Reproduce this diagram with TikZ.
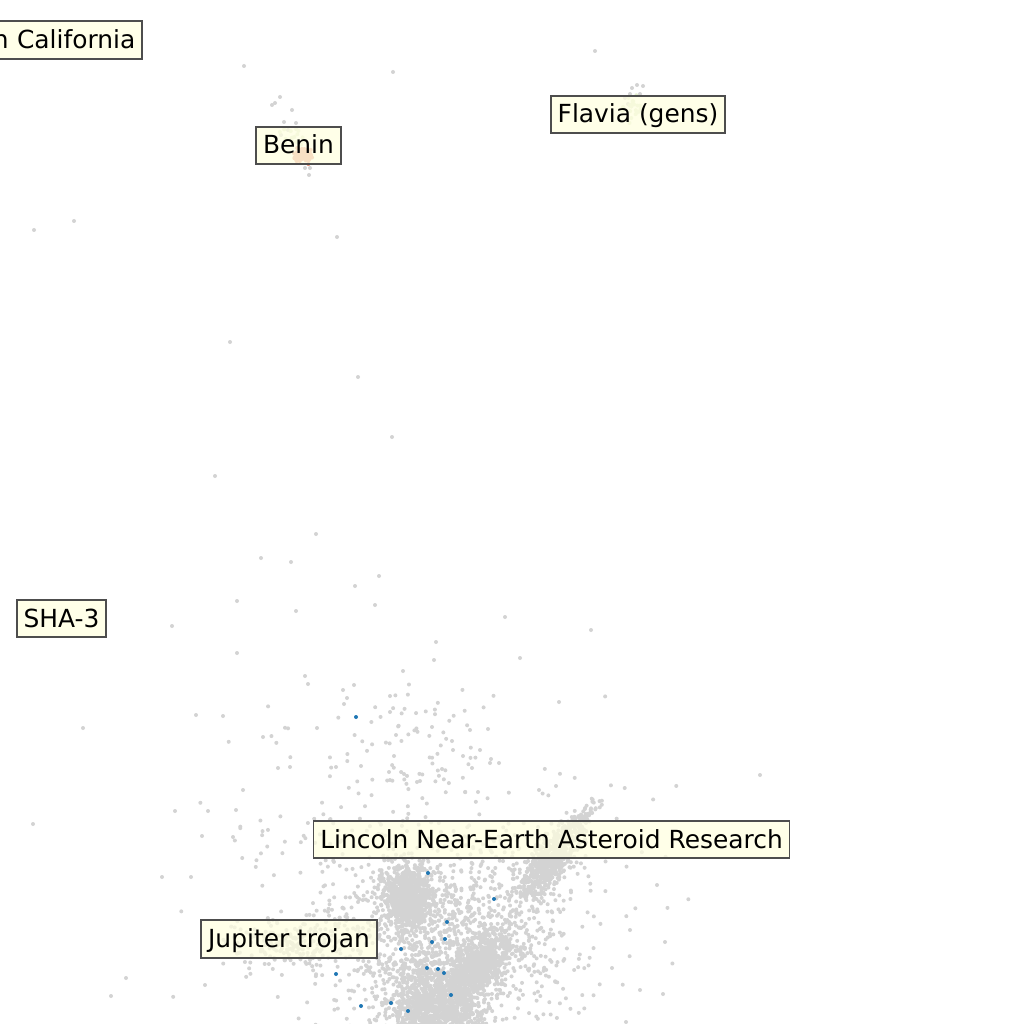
\documentclass[tikz,border=0pt]{standalone}
\usepackage{fontspec}
\setmainfont{DejaVu Sans}
\definecolor{ptgray}{HTML}{D3D3D3}
\definecolor{ptblue}{HTML}{1F77B4}
\definecolor{ptpink}{HTML}{E8907A}
\definecolor{ptgreen}{HTML}{E2EDCF}
\definecolor{lblfill}{HTML}{FFFFE0}
\definecolor{lbldraw}{HTML}{4D4D4D}
\newcommand\gcluster[8]{%
  \foreach \k in {1,...,#1}{%
    \pgfmathsetmacro\uu{rand+rand+rand}%
    \pgfmathsetmacro\vv{rand+rand+rand}%
    \fill[#8] ({#2+#4*\uu+#5*\vv},{#3+#6*\uu+#7*\vv}) circle[radius=2pt];
  }}
\tikzset{
  lbl/.style={draw=lbldraw, line width=1.8pt, fill=lblfill, fill opacity=0.72,
    text opacity=1, font=\fontsize{24.9}{29}\selectfont, inner xsep=6.8pt,
    inner ysep=0pt, minimum height=37.5pt, text height=20.5pt, text depth=3.5pt}
}
\begin{document}
\begin{tikzpicture}[x=1pt,y=-1pt]
\useasboundingbox (0,0) rectangle (1024,1024);
\clip (0,0) rectangle (1024,1024);
\fill[white] (0,0) rectangle (1024,1024);
\pgfmathsetseed{4242}
% halos
\gcluster{330}{430}{885}{105}{0}{0}{75}{ptgray}
\gcluster{1100}{450}{940}{58}{0}{0}{48}{ptgray}
\gcluster{70}{400}{750}{55}{0}{0}{35}{ptgray}
\gcluster{200}{300}{945}{32}{0}{0}{13}{ptgray}
% dense clusters
\gcluster{850}{407}{897}{12}{0}{0}{16}{ptgray}
\gcluster{1300}{438}{1008}{25}{0}{0}{25}{ptgray}
\gcluster{750}{478}{965}{15}{8}{-15}{8}{ptgray}
\gcluster{600}{548}{862}{13}{7}{-17}{5}{ptgray}
\gcluster{90}{580}{820}{10}{0}{-8}{6}{ptgray}
% isolated points
\foreach \p in {(244,66),(393,72),(595,51),(34,230),(74,221),(337,237),(230,342),
  (358,377),(392,437),(215,476),(316,534),(261,558),(291,562),(379,576),(355,586),
  (237,601),(296,611),(375,605),(505,617),(591,630),(172,626),(237,653),(436,642),
  (434,660),(403,671),(520,658),(305,676),(308,684),(343,690),(354,685),(347,698),
  (344,704),(390,696),(390,712),(559,702),(196,715),(223,716),(83,728),(317,728),
  (263,737),(396,735),(432,727),(452,741),(470,730),(488,729),(453,750),(394,756),
  (463,756),(472,768),(491,759),(480,750),(490,763),(442,769),(499,763),(278,768),
  (290,767),(336,767),(361,766),(389,772),(404,774),(390,780),(417,782),(420,781),
  (478,792),(556,786),(539,790),(760,775),(33,824),(175,811),(162,877),(126,978),
  (111,996),(205,985),(663,994),(626,1022),(191,877),(208,811),(243,790),(236,810),
  (202,836),(233,837),(640,990),(665,942),(612,968),(657,885),(630,930),
  (275,103),(280,97),(272,105),(292,110),(284,122),(288,130),(296,123),(281,135),
  (309,175),(305,168),(310,168),
  (632,88),(637,85),(643,86),(630,94),(640,94),(625,98),(628,104)}
  {\fill[ptgray] \p circle[radius=2pt];}
% Benin and Flavia groups
\gcluster{18}{292}{138}{6}{0}{0}{6}{ptgreen}
\gcluster{90}{303}{155}{4.5}{0}{0}{3.5}{ptpink}
\gcluster{22}{633}{108}{5}{0}{0}{8}{ptgreen}
% blue points
\foreach \p in {(356,717),(428,873),(494,899),(447,922),(432,942),(445,939),
  (401,949),(427,968),(438,969),(444,973),(451,995),(336,974),(361,1006),
  (391,1003),(408,1011)}
  {\fill[ptblue] \p circle[radius=2pt];}
% labels
\node[lbl, anchor=east, text width=150pt, align=right] (cal) at (143,40) {n California};
\node[lbl] (benin) at (298.5,145.5) {Benin};
\node[lbl] (flavia) at (638,114.5) {Flavia (gens)};
\node[lbl] (sha) at (61.5,618.5) {SHA-3};
\node[lbl] (lincoln) at (551.5,839.5) {Lincoln Near-Earth Asteroid Research};
\node[lbl] (jupiter) at (289,939) {Jupiter trojan};
\end{tikzpicture}
\end{document}
